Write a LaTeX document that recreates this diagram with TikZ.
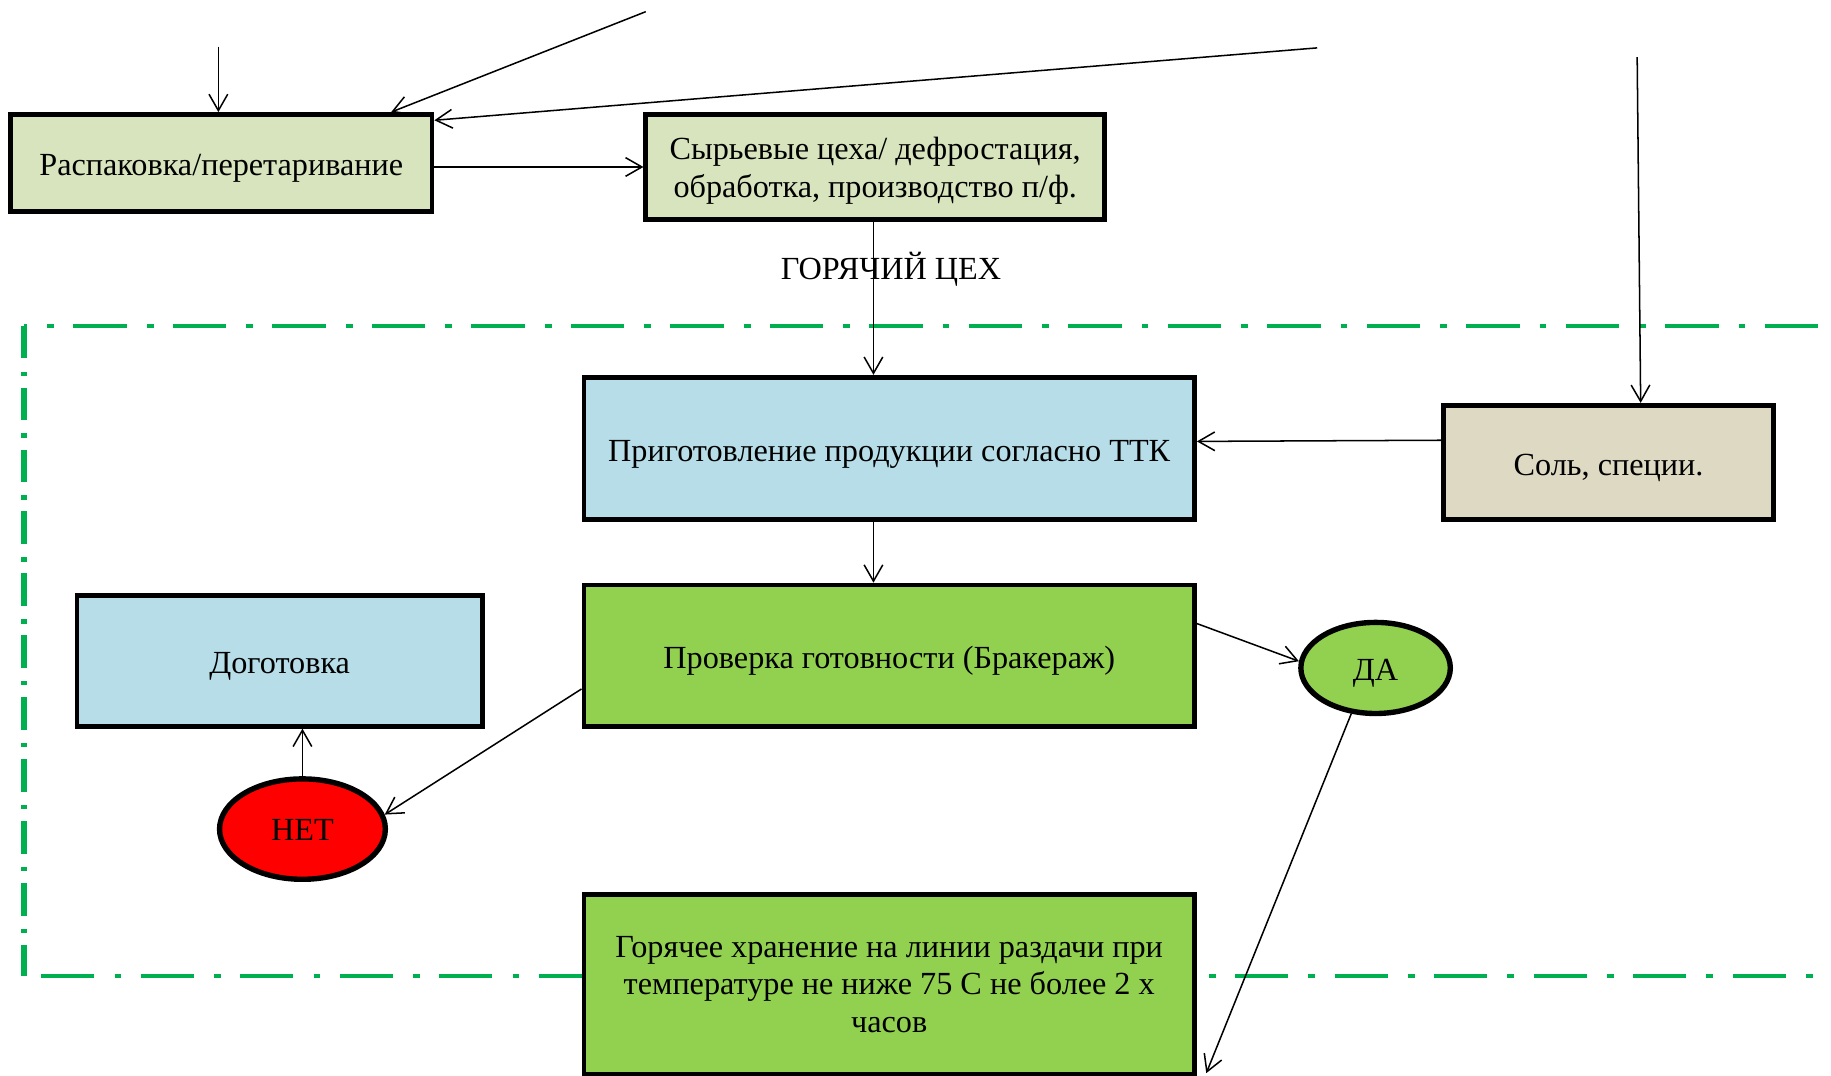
\documentclass[tikz,border=0pt]{standalone}
\usepackage{fontspec}
\setmainfont{Liberation Serif}
\usetikzlibrary{arrows.meta,shapes.geometric}
\definecolor{lgreen}{HTML}{D7E4BD}
\definecolor{lblue}{HTML}{B7DEE8}
\definecolor{beige}{HTML}{DDD9C3}
\definecolor{grn}{HTML}{92D050}
\definecolor{frame}{HTML}{00B050}
\newcommand\lowt[2]{\raisebox{-#1}[\height][\depth]{\begin{tabular}{@{}c@{}}#2\end{tabular}}}
\begin{document}
\begin{tikzpicture}[x=0.5pt,y=-0.5pt,
  txt/.style={font=\fontsize{13.8}{16}\selectfont},
  box/.style={txt, draw=black, line width=2pt, inner sep=0pt, align=center},
  oval/.style={txt, ellipse, draw=black, line width=2.3pt, inner sep=0pt},
  conn/.style={line width=0.65pt, -{Straight Barb[length=7pt,width=8pt]}},
  zoneh/.style={draw=frame, line width=1.7pt, dash pattern=on 22.8pt off 8.6pt on 2.9pt off 8.3pt},
  zonev/.style={draw=frame, line width=2.6pt, dash pattern=on 14pt off 5.6pt on 1.9pt off 5pt}]
\useasboundingbox (0,0) rectangle (1568,920.6);
% frame
\coordinate (ftl) at (20.5,279);
\coordinate (fbl) at (20.5,836);
\coordinate (ftr) at (1590,279);
\coordinate (fbr) at (1590,836);
\draw[zonev] (ftl) -- (fbl);
\draw[zoneh, dash phase=21.4pt] (ftl) -- (ftr);
\draw[zoneh, dash phase=35.2pt] (fbl) -- (fbr);
% nodes
\node[box, fill=lgreen, minimum width=180.5pt, minimum height=41.5pt] (rasp) at (189.5,139.5) {\lowt{2.2pt}{Распаковка/перетаривание}};
\node[box, fill=lgreen, minimum width=196.5pt, minimum height=45pt] (syr) at (749.5,143) {\lowt{1.7pt}{Сырьевые цеха/ дефростация,\\обработка, производство п/ф.}};
\node[box, fill=lblue, minimum width=261.5pt, minimum height=61pt] (prig) at (761.5,384) {\lowt{2.4pt}{Приготовление продукции согласно ТТК}};
\node[box, fill=beige, minimum width=141.5pt, minimum height=49pt] (sol) at (1377.5,396) {\lowt{2.4pt}{Соль, специи.}};
\node[box, fill=grn, minimum width=261.5pt, minimum height=60.5pt] (prov) at (761.5,561.5) {\lowt{2.2pt}{Проверка готовности (Бракераж)}};
\node[box, fill=lblue, minimum width=173.5pt, minimum height=56pt] (dog) at (239.5,566) {\lowt{2.2pt}{Доготовка}};
\node[box, fill=grn, minimum width=261.5pt, minimum height=77pt] (gor) at (761.5,843) {\lowt{1.3pt}{Горячее хранение на линии раздачи при\\температуре не ниже 75 С не более 2 х\\часов}};
\node[oval, fill=red, minimum width=71pt, minimum height=43pt] (net) at (259,710) {\lowt{1.5pt}{НЕТ}};
\node[oval, fill=grn, minimum width=64pt, minimum height=39pt] (da) at (1178,572) {\lowt{2.2pt}{ДА}};
\node[txt] (hot) at (763,231) {ГОРЯЧИЙ ЦЕХ};
% free ends
\coordinate (c1) at (187,40);
\coordinate (c2) at (553,10);
\coordinate (c3) at (1128,41);
\coordinate (c4) at (1402,49);
\coordinate (c5) at (1033,919);
% connectors
\draw[conn] (c1) -- (c1 |- rasp.north);
\draw[conn] (c2) -- ([xshift=-18.5pt]rasp.north east);
\draw[conn] (c3) -- ([yshift=-3.5pt]rasp.north east);
\draw[conn] (c4) -- ([xshift=13.75pt]sol.north);
\draw[conn] (rasp.east |- syr.west) -- (syr.west);
\draw[conn] ([xshift=-0.75pt]syr.south) -- ([xshift=-0.75pt]syr.south |- prig.north);
\draw[conn] ([yshift=9.5pt]sol.west) -- ([yshift=3pt]prig.east);
\draw[conn] ([xshift=-6.75pt]prig.south) -- ([xshift=-6.75pt]prov.north);
\draw[conn] ([yshift=-14.25pt]prov.west) -- (net.10);
\draw[conn] (net.north) -- (net.north |- dog.south);
\draw[conn] ([yshift=13.75pt]prov.east) -- (da.175);
\draw[conn] (da.242) -- (c5);
\end{tikzpicture}
\end{document}
